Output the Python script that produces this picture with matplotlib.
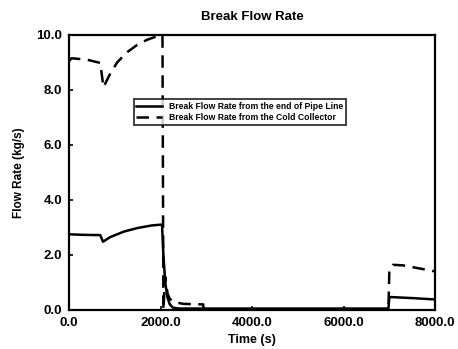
import matplotlib
matplotlib.use("Agg")
import matplotlib.pyplot as plt

plt.rcParams['font.family'] = ['Liberation Sans', 'DejaVu Sans']

# Solid: break flow rate from the end of pipe line
t_pipe = [0, 300, 680, 740, 900, 1200, 1500, 1800, 2000, 2030, 2060, 2100, 2150, 2200, 2270, 2400, 3000, 4000, 5000, 6000, 6980, 7000, 7500, 8000]
q_pipe = [2.75, 2.73, 2.72, 2.48, 2.65, 2.85, 2.98, 3.07, 3.1, 3.1, 2.0, 1.0, 0.45, 0.2, 0.08, 0.05, 0.05, 0.05, 0.05, 0.05, 0.05, 0.47, 0.43, 0.38]

# Dashed: break flow rate from the cold collector
t_cold = [0, 50, 390, 680, 750, 900, 1050, 1250, 1490, 1700, 1920, 2040, 2060, 2100, 2150, 2200, 2300, 2500, 2930, 2940, 6980, 7000, 7080, 7300, 8000]
q_cold = [9.05, 9.15, 9.1, 8.98, 8.1, 8.6, 9.0, 9.35, 9.64, 9.82, 9.95, 10.0, 0.0, 1.2, 0.6, 0.4, 0.28, 0.22, 0.2, 0.02, 0.02, 1.45, 1.64, 1.62, 1.4]

labels = ["Break Flow Rate from the end of Pipe Line",
          "Break Flow Rate from the Cold Collector"]

fig = plt.figure(figsize=(4.58, 3.49), dpi=100)
ax = fig.add_axes([0.151, 0.112, 0.799, 0.788])
ax.plot(t_pipe, q_pipe, color='black', lw=1.8, ls='-', label=labels[0])
ax.plot(t_cold, q_cold, color='black', lw=1.8, ls=(0, (5, 3)), label=labels[1])

ax.set_xlim(0, 8000)
ax.set_ylim(0, 10)
ax.set_xticks([0, 2000, 4000, 6000, 8000])
ax.set_xticklabels(["0.0", "2000.0", "4000.0", "6000.0", "8000.0"])
ax.set_yticks([0, 2, 4, 6, 8, 10])
ax.set_yticklabels(["0.0", "2.0", "4.0", "6.0", "8.0", "10.0"])
ax.tick_params(direction='in', length=3, width=1.2, labelsize=9.5, pad=5)
for lab in ax.get_xticklabels() + ax.get_yticklabels():
    lab.set_fontweight('bold')
for s in ax.spines.values():
    s.set_linewidth(1.6)

ax.set_title("Break Flow Rate", fontsize=9.5, fontweight='bold', pad=11)
ax.set_xlabel("Time (s)", fontsize=9, fontweight='bold', labelpad=4)
ax.set_ylabel("Flow Rate (kg/s)", fontsize=8.5, fontweight='bold', labelpad=8)

leg = ax.legend(loc='center', bbox_to_anchor=(0.466, 0.72),
                frameon=True, fancybox=False, edgecolor='black',
                handlelength=3, borderpad=0.3, labelspacing=0.3,
                prop={'size': 6.2, 'weight': 'bold'})
leg.get_frame().set_linewidth(1.3)

fig.savefig("out.png", dpi=100)
